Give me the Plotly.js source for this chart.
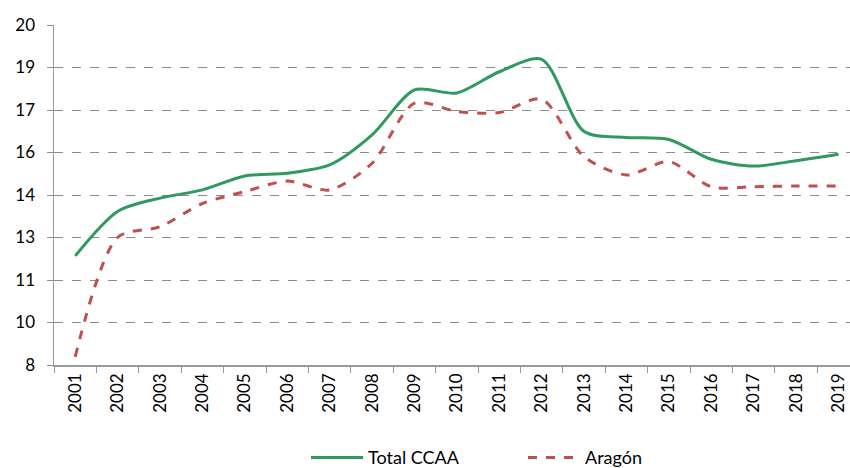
<!DOCTYPE html>
<html>
<head>
<meta charset="utf-8">
<script src="https://cdn.plot.ly/plotly-3.0.1.min.js"></script>
<style>html,body{margin:0;padding:0;background:#fff;}#chart{width:850px;height:468px;}</style>
</head>
<body>
<div id="chart"></div>
<script>
var years = ['2001','2002','2003','2004','2005','2006','2007','2008','2009','2010','2011','2012','2013','2014','2015','2016','2017','2018','2019'];
var totalCCAA = [11.85, 13.42, 13.89, 14.18, 14.67, 14.77, 15.06, 16.12, 17.71, 17.60, 18.35, 18.79, 16.24, 16.03, 15.96, 15.26, 15.02, 15.21, 15.44];
var aragon = [8.29, 12.50, 12.88, 13.70, 14.12, 14.49, 14.18, 15.12, 17.24, 16.95, 16.91, 17.38, 15.35, 14.71, 15.18, 14.29, 14.29, 14.32, 14.32];
var yTickVals = [8, 9.5, 11, 12.5, 14, 15.5, 17, 18.5, 20];
var yTickText = ['8', '10', '11', '13', '14', '16', '17', '19', '20'];

var font = 'Lato, "Open Sans", "Liberation Sans", sans-serif';
var traces = [
  {x: years, y: totalCCAA, name: 'Total CCAA', type: 'scatter', mode: 'lines',
   line: {color: '#2e9a5e', width: 3, shape: 'spline', smoothing: 0.8}},
  {x: years, y: aragon, name: 'Aragón', type: 'scatter', mode: 'lines',
   line: {color: '#c0504d', width: 3, dash: 'dash', shape: 'spline', smoothing: 0.8}}
];
var layout = {
  width: 850, height: 468,
  margin: {l: 54, r: 0, t: 25, b: 103, autoexpand: false},
  paper_bgcolor: '#fff', plot_bgcolor: '#fff',
  font: {family: font, size: 17, color: '#000'},
  showlegend: true,
  legend: {orientation: 'h', xref: 'container', yref: 'container', x: 0.36, xanchor: 'left',
    y: 0.022, yanchor: 'middle', entrywidth: 150, entrywidthmode: 'pixels',
    font: {family: font, size: 18, color: '#000'}, itemwidth: 52, tracegroupgap: 0},
  xaxis: {type: 'category', range: [-0.5, 18.27], showgrid: false, automargin: false,
    showline: true, linecolor: '#9a9a9a', linewidth: 1.5,
    ticks: 'outside', tickson: 'boundaries', ticklen: 6, tickcolor: '#9a9a9a', tickwidth: 1,
    tickangle: -90, tickfont: {family: font, size: 17, color: '#000'}, zeroline: false, fixedrange: true},
  yaxis: {range: [8, 20], tickvals: yTickVals, ticktext: yTickText, automargin: false,
    showgrid: true, gridcolor: '#8c8c8c', griddash: 'dash', gridwidth: 1,
    showline: true, linecolor: '#9a9a9a', linewidth: 1.5,
    ticks: 'outside', ticklen: 6, tickcolor: '#8c8c8c', tickwidth: 1, ticklabelstandoff: 8,
    tickfont: {family: font, size: 17, color: '#000'}, zeroline: false, fixedrange: true}
};
Plotly.newPlot('chart', traces, layout, {displayModeBar: false, staticPlot: true});
</script>
</body>
</html>
